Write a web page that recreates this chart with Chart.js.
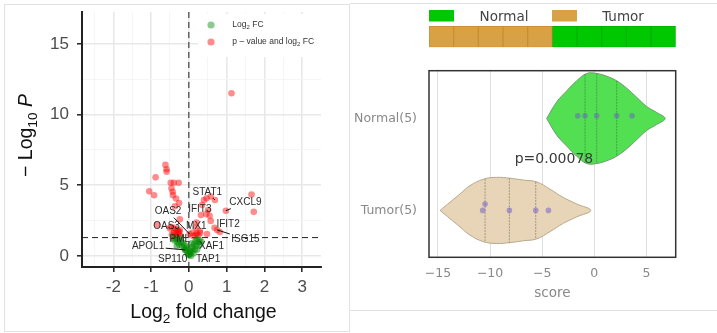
<!DOCTYPE html>
<html lang="en">
<head>
<meta charset="UTF-8">
<title>Volcano plot and score violin</title>
<style>
  body { margin: 0; background: #fff; width: 717px; height: 333px; overflow: hidden; position: relative; }
  #leftFrame { position: absolute; left: 4px; top: 4px; width: 344px; height: 326px; border: 1px solid #e2e2e2; box-sizing: content-box; }
  #volcano { position: absolute; left: 4px; top: 4px; }
  .hline { position: absolute; left: 350px; width: 367px; height: 1px; background: #e2e2e2; }
  #heat { position: absolute; left: 429px; top: 0; }
  #violin { position: absolute; left: 340px; top: 50px; }
</style>
</head>
<body>
<div id="leftFrame"></div>
<canvas id="volcano" width="345" height="327"></canvas>
<div class="hline" style="top:3px"></div>
<div class="hline" style="top:310px"></div>
<canvas id="heat" width="247" height="50"></canvas>
<canvas id="violin" width="377" height="260"></canvas>

<script src="https://cdn.jsdelivr.net/npm/chart.js"></script>
<script>
// ---------- volcano data ----------
const xTicks = [-2, -1, 0, 1, 2, 3];
const xGrid = [-2.5, -2, -1.5, -1, -0.5, 0, 0.5, 1, 1.5, 2, 2.5, 3];
const yTicks = [0, 5, 10, 15];
const yGrid = [0, 2.5, 5, 7.5, 10, 12.5, 15];
const pCutoff = 1.3; // -log10(0.05)

// significant genes (p-value and log2 FC)
const redX = [-0.62, -0.59, -0.59, -0.88, -1.05, -0.92, -0.48, -0.40, -0.27, -0.46, -0.43, -0.42, -0.34, -0.26, -0.37,
  -0.24, -0.84, -0.48, -0.34, -0.39, -0.27, -0.45, -0.40, -0.35, -0.30, -0.28, -0.22, -0.50, -0.38, -0.32, -0.25, -0.24,
  0.02, 0.10, 0.12, 0.18, 0.25, 0.30, 0.40, 0.47, 0.58, 0.69, 0.35, 0.51, 0.46, 0.55, 0.58, 0.32, 0.20, 0.19, 0.29,
  0.21, 0.48, 0.68, 0.75, 0.82, 0.98, 1.66, 1.72, 1.13];
const redY = [6.44, 6.13, 5.95, 5.56, 4.57, 4.29, 5.18, 5.18, 5.18, 4.78, 4.54, 4.30, 4.06, 3.75, 3.52,
  2.59, 2.20, 2.07, 1.88, 1.60, 1.72, 1.50, 1.65, 1.45, 1.80, 1.55, 1.40, 1.95, 2.00, 1.35, 1.70, 1.84,
  1.55, 1.65, 1.40, 1.50, 1.45, 1.62, 3.96, 4.08, 4.20, 3.96, 3.60, 3.25, 2.96, 2.84, 2.48, 2.90, 2.36, 2.01, 1.77,
  1.60, 1.55, 2.00, 1.84, 1.70, 3.20, 4.34, 3.12, 11.5];

// log2 FC only
const greenX = [-0.42, -0.38, -0.35, -0.30, -0.27, -0.25, -0.20, -0.18, -0.15, -0.12, -0.10, -0.08, -0.05, -0.04,
  -0.02, 0.00, 0.02, 0.03, 0.05, 0.06, 0.08, 0.10, 0.12, 0.14, 0.16, 0.18, 0.20, 0.22, 0.25, 0.28, 0.30, 0.33,
  -0.22, 0.08, -0.32, -0.10, 0.22];
const greenY = [1.25, 1.10, 1.20, 0.95, 1.15, 0.80, 1.00, 0.70, 0.90, 0.55, 0.75, 0.40, 0.60, 0.25,
  0.12, 0.05, 0.30, 0.15, 0.50, 0.02, 0.35, 0.65, 0.20, 0.85, 0.45, 1.05, 0.70, 1.20, 0.95, 1.10, 0.80, 1.00,
  1.25, 0.90, 0.70, 0.43, 0.45];

// labelled genes: text centre and the point it points to (data units)
const geneNames = ['STAT1', 'CXCL9', 'IFIT3', 'OAS2', 'MX1', 'OAS3', 'IFIT2', 'ISG15', 'XAF1', 'APOL1', 'PML', 'SP110', 'TAP1'];
const geneTextX = [0.49, 1.50, 0.29, -0.55, 0.20, -0.59, 1.04, 1.50, 0.60, -1.08, -0.24, -0.43, 0.51];
const geneTextY = [4.50, 3.77, 3.30, 3.13, 2.07, 2.07, 2.24, 1.20, 0.66, 0.66, 1.18, -0.24, -0.24];
const genePtX = [0.69, 0.98, 0.55, 0.02, 0.10, -0.24, 0.68, 0.75, 0.22, -0.10, -0.10, 0.00, 0.12];
const genePtY = [3.96, 3.20, 2.84, 1.55, 1.65, 1.84, 2.00, 1.84, 0.45, 0.43, 1.00, 0.05, 0.20];

// ---------- score data ----------
const groups = ['Normal(5)', 'Tumor(5)'];
const scoreTicks = [-15, -10, -5, 0, 5];
const normalScores = [-1.59, -0.89, 0.23, 2.15, 3.62];
const normalJitter = [-0.03, -0.03, -0.03, -0.03, -0.03];
const tumorScores = [-10.48, -10.71, -8.15, -5.62, -4.40];
const tumorJitter = [-0.07, 0, 0, 0, 0];
// violin outline: score position and half width (category units)
const normalShapeX = [-4.57, -3.61, -2.65, -1.69, -0.73, 0.23, 1.19, 2.15, 3.11, 4.07, 5.03, 5.99, 6.79];
const normalShapeW = [0.0, 0.18, 0.30, 0.41, 0.49, 0.49, 0.46, 0.41, 0.33, 0.23, 0.13, 0.065, 0.0];
const tumorShapeX = [-14.8, -13.84, -12.88, -11.92, -10.64, -9.36, -8.08, -6.80, -5.52, -4.24, -2.96, -1.68, -0.34];
const tumorShapeW = [0.0, 0.09, 0.18, 0.27, 0.34, 0.36, 0.35, 0.33, 0.31, 0.23, 0.14, 0.07, 0.0];
// quartile lines: position and half width there
const normalQuartX = [-0.89, 0.23, 2.15];
const normalQuartW = [0.48, 0.49, 0.41];
const tumorQuartX = [-10.48, -8.15, -5.62];
const tumorQuartW = [0.34, 0.35, 0.31];
const pText = 'p=0.00078';

// ---------- sample bar ----------
const sampleGroups = ['Tumor', 'Tumor', 'Tumor', 'Tumor', 'Tumor', 'Normal', 'Normal', 'Normal', 'Normal', 'Normal'];
const groupColors = { Normal: '#00c800', Tumor: '#d8a144' };
const groupBorders = { Normal: '#00b000', Tumor: '#c48f36' };

const LIB = '"Liberation Sans", Arial, sans-serif';
const DJV = '"DejaVu Sans", sans-serif';

function drawRich(ctx, parts, x, y, size, color, family) {
  const fontOf = m => (m === 'it' ? 'italic ' : '') + (m === 'sub' ? size * 0.7 : size) + 'px ' + family;
  let w = 0;
  parts.forEach(p => { ctx.font = fontOf(p[1]); w += ctx.measureText(p[0]).width; });
  let cx = x - w / 2;
  ctx.fillStyle = color;
  ctx.textAlign = 'left';
  ctx.textBaseline = 'middle';
  parts.forEach(p => {
    ctx.font = fontOf(p[1]);
    ctx.fillText(p[0], cx, y + (p[1] === 'sub' ? size * 0.3 : 0));
    cx += ctx.measureText(p[0]).width;
  });
}

function toPoints(xs, ys) {
  return xs.map((x, i) => ({ x: x, y: ys[i] }));
}

// keep the plot area where afterFit puts it
function fixV(width) {
  return s => { s.width = width; s.paddingTop = 0; s.paddingBottom = 0; };
}
function fixH(height) {
  return s => { s.height = height; s.paddingLeft = 0; s.paddingRight = 0; };
}

// ---------- volcano chart ----------
const volcanoExtras = {
  id: 'volcanoExtras',
  beforeDatasetsDraw(chart) {
    const { ctx, chartArea: a, scales: { x, y } } = chart;
    ctx.save();
    ctx.strokeStyle = '#222';
    ctx.lineWidth = 1;
    ctx.setLineDash([6, 4]);
    ctx.beginPath();
    ctx.moveTo(x.getPixelForValue(0), a.top);
    ctx.lineTo(x.getPixelForValue(0), a.bottom);
    ctx.moveTo(a.left, y.getPixelForValue(pCutoff));
    ctx.lineTo(a.right, y.getPixelForValue(pCutoff));
    ctx.stroke();
    ctx.setLineDash([]);
    // legend
    ctx.fillStyle = '#fff';
    ctx.fillRect(194, 10, a.right - 194, 43);
    ctx.beginPath();
    ctx.fillStyle = 'rgba(0,139,0,0.45)';
    ctx.arc(207, 21, 3.6, 0, Math.PI * 2);
    ctx.fill();
    ctx.beginPath();
    ctx.fillStyle = 'rgba(255,0,0,0.45)';
    ctx.arc(207, 38, 3.6, 0, Math.PI * 2);
    ctx.fill();
    ctx.restore();
    ctx.save();
    const lg1 = [['Log', ''], ['2', 'sub'], [' FC', '']];
    const lg2 = [['p \u2013 value and log', ''], ['2', 'sub'], [' FC', '']];
    ctx.font = '8.5px ' + LIB;
    const w1 = ctx.measureText('Log FC').width + 4;
    const w2 = ctx.measureText('p \u2013 value and log FC').width + 4;
    drawRich(ctx, lg1, 228 + w1 / 2, 21, 8.5, '#333', LIB);
    drawRich(ctx, lg2, 228 + w2 / 2, 38, 8.5, '#333', LIB);
    ctx.restore();
  },
  afterDatasetsDraw(chart) {
    const { ctx, scales: { x, y } } = chart;
    ctx.save();
    ctx.font = '10px ' + LIB;
    ctx.textAlign = 'center';
    ctx.textBaseline = 'middle';
    geneNames.forEach((name, i) => {
      const tx = x.getPixelForValue(geneTextX[i]);
      const ty = y.getPixelForValue(geneTextY[i]);
      const px = x.getPixelForValue(genePtX[i]);
      const py = y.getPixelForValue(genePtY[i]);
      const hw = ctx.measureText(name).width / 2 + 1.5;
      const hh = 6;
      const dx = px - tx, dy = py - ty;
      const t = Math.min(hw / Math.max(Math.abs(dx), 1e-6), hh / Math.max(Math.abs(dy), 1e-6));
      if (t < 0.9) {
        ctx.strokeStyle = '#111';
        ctx.lineWidth = 1;
        ctx.beginPath();
        ctx.moveTo(tx + dx * t, ty + dy * t);
        ctx.lineTo(px, py);
        ctx.stroke();
      }
      ctx.fillStyle = '#2a2a2a';
      ctx.fillText(name, tx, ty);
    });
    ctx.restore();
  },
  afterDraw(chart) {
    const { ctx, chartArea: a } = chart;
    ctx.save();
    drawRich(ctx, [['Log', ''], ['2', 'sub'], [' fold change', '']], (a.left + a.right) / 2 + 2, 309, 19.5, '#111', LIB);
    ctx.translate(23, (a.top + a.bottom) / 2 - 4);
    ctx.rotate(-Math.PI / 2);
    drawRich(ctx, [['\u2212 Log', ''], ['10', 'sub'], [' ', ''], ['P', 'it']], 0, 0, 19.5, '#111', LIB);
    ctx.restore();
  }
};

const gridColor = (major) => (c) => (major.includes(c.tick.value) ? '#e8e8e8' : '#f3f3f3');
const gridWidth = (major) => (c) => (major.includes(c.tick.value) ? 1.6 : 0.8);
const tickColor = (major) => (c) => (major.includes(c.tick.value) ? '#222' : 'rgba(0,0,0,0)');

new Chart(document.getElementById('volcano'), {
  type: 'scatter',
  data: {
    datasets: [
      { label: 'Log2 FC', data: toPoints(greenX, greenY), backgroundColor: 'rgba(0,139,0,0.5)', borderWidth: 0, pointRadius: 3.3, order: 0 },
      { label: 'p - value and log2 FC', data: toPoints(redX, redY), backgroundColor: 'rgba(255,0,0,0.45)', borderWidth: 0, pointRadius: 3.3, order: 1 }
    ]
  },
  options: {
    responsive: false,
    animation: false,
    layout: { padding: { left: 0, top: 8, right: 28, bottom: 0 } },
    plugins: { legend: { display: false }, tooltip: { enabled: false } },
    scales: {
      x: {
        type: 'linear', min: -2.83, max: 3.5,
        afterBuildTicks: s => { s.ticks = xGrid.map(v => ({ value: v })); },
        afterFit: fixH(64),
        grid: { color: gridColor(xTicks), lineWidth: gridWidth(xTicks), tickColor: tickColor(xTicks), tickLength: 5, tickWidth: 1.5 },
        border: { display: true, color: '#222', width: 2 },
        ticks: {
          autoSkip: false, maxRotation: 0, padding: 5, color: '#4d4d4d',
          font: { family: LIB, size: 17 },
          callback: v => (xTicks.includes(v) ? String(v) : '')
        }
      },
      y: {
        type: 'linear', min: -0.78, max: 17.25,
        afterBuildTicks: s => { s.ticks = yGrid.map(v => ({ value: v })); },
        afterFit: fixV(78),
        grid: { color: gridColor(yTicks), lineWidth: gridWidth(yTicks), tickColor: tickColor(yTicks), tickLength: 5, tickWidth: 1.5 },
        border: { display: true, color: '#222', width: 2 },
        ticks: {
          autoSkip: false, padding: 8, color: '#4d4d4d',
          font: { family: LIB, size: 17 },
          callback: v => (yTicks.includes(v) ? String(v) : '')
        }
      }
    }
  },
  plugins: [volcanoExtras]
});

// ---------- sample group bar ----------
const heatLegend = {
  id: 'heatLegend',
  afterDraw(chart) {
    const ctx = chart.ctx;
    ctx.save();
    ctx.fillStyle = groupColors.Normal;
    ctx.fillRect(0, 10, 25, 11.5);
    ctx.fillStyle = groupColors.Tumor;
    ctx.fillRect(123, 10, 25, 11.5);
    ctx.fillStyle = '#444';
    ctx.font = '13.5px ' + DJV;
    ctx.textAlign = 'center';
    ctx.textBaseline = 'middle';
    ctx.fillText('Normal', 75, 17);
    ctx.fillText('Tumor', 194, 17);
    ctx.restore();
  }
};

new Chart(document.getElementById('heat'), {
  type: 'bar',
  data: {
    labels: ['group'],
    datasets: sampleGroups.map(g => ({
      label: g, data: [1], backgroundColor: groupColors[g], borderColor: groupBorders[g],
      borderWidth: 1, borderSkipped: false, barPercentage: 1, categoryPercentage: 1
    }))
  },
  options: {
    indexAxis: 'y',
    responsive: false,
    animation: false,
    layout: { padding: { left: 0, right: 0.3, top: 26, bottom: 2.7 } },
    plugins: { legend: { display: false }, tooltip: { enabled: false } },
    scales: {
      x: { display: false, stacked: true, min: 0, max: sampleGroups.length },
      y: { display: false, stacked: true }
    }
  },
  plugins: [heatLegend]
});

// ---------- violin chart ----------
function outline(xs, ws, c) {
  const upper = xs.map((x, i) => ({ x: x, y: c - ws[i] }));
  const lower = xs.slice(0, -1).map((x, i) => ({ x: x, y: c + ws[i] })).reverse();
  return upper.concat(lower);
}

function quartileSets(xs, ws, c) {
  return xs.map((x, i) => ({
    data: [{ x: x, y: c - ws[i] }, { x: x, y: c + ws[i] }],
    showLine: true, borderColor: 'rgba(60,60,60,0.4)', borderWidth: 1,
    borderDash: [2, 1], pointRadius: 0, tension: 0, fill: false, order: 1
  }));
}

const violinExtras = {
  id: 'violinExtras',
  afterDatasetsDraw(chart) {
    const { ctx, scales: { x, y } } = chart;
    ctx.save();
    ctx.fillStyle = '#3a3a3a';
    ctx.font = '14px ' + DJV;
    ctx.textAlign = 'center';
    ctx.textBaseline = 'middle';
    ctx.fillText(pText, x.getPixelForValue(-3.87), y.getPixelForValue(0.44));
    ctx.restore();
  },
  afterDraw(chart) {
    const { ctx, chartArea: a } = chart;
    ctx.save();
    ctx.strokeStyle = '#333';
    ctx.lineWidth = 1.5;
    ctx.strokeRect(a.left, a.top, a.right - a.left, a.bottom - a.top);
    ctx.fillStyle = '#888';
    ctx.font = '13.5px ' + DJV;
    ctx.textAlign = 'center';
    ctx.textBaseline = 'middle';
    ctx.fillText('score', (a.left + a.right) / 2, 243);
    ctx.restore();
  }
};

new Chart(document.getElementById('violin'), {
  type: 'scatter',
  data: {
    datasets: [
      { data: outline(normalShapeX, normalShapeW, 0), showLine: true, tension: 0.4, fill: 'shape',
        backgroundColor: '#52e052', borderColor: '#6f9a6f', borderWidth: 1, pointRadius: 0, order: 2 },
      { data: outline(tumorShapeX, tumorShapeW, 1), showLine: true, tension: 0.4, fill: 'shape',
        backgroundColor: '#e8d5b7', borderColor: '#b7a88c', borderWidth: 1, pointRadius: 0, order: 2 },
      ...quartileSets(normalQuartX, normalQuartW, 0),
      ...quartileSets(tumorQuartX, tumorQuartW, 1),
      { data: normalScores.map((v, i) => ({ x: v, y: 0 + normalJitter[i] })), backgroundColor: 'rgba(106,90,205,0.5)',
        borderWidth: 0, pointRadius: 2.8, order: 0 },
      { data: tumorScores.map((v, i) => ({ x: v, y: 1 + tumorJitter[i] })), backgroundColor: 'rgba(106,90,205,0.5)',
        borderWidth: 0, pointRadius: 2.8, order: 0 }
    ]
  },
  options: {
    responsive: false,
    animation: false,
    layout: { padding: { left: 0, top: 20.7, right: 41.3, bottom: 0 } },
    plugins: { legend: { display: false }, tooltip: { enabled: false } },
    scales: {
      x: {
        type: 'linear', min: -15.86, max: 7.81,
        afterBuildTicks: s => { s.ticks = scoreTicks.map(v => ({ value: v })); },
        afterFit: fixH(52.7),
        grid: { color: '#dedede', lineWidth: 1, drawTicks: false },
        border: { display: false },
        ticks: {
          autoSkip: false, maxRotation: 0, padding: 9, color: '#888',
          font: { family: DJV, size: 12.5 },
          callback: v => String(v).replace('-', '\u2212')
        }
      },
      y: {
        type: 'linear', min: -0.52, max: 1.51, reverse: true,
        afterBuildTicks: s => { s.ticks = groups.map((g, i) => ({ value: i })); },
        afterFit: fixV(89),
        grid: { display: false, drawTicks: false },
        border: { display: false },
        ticks: {
          autoSkip: false, padding: 12, color: '#888',
          font: { family: DJV, size: 12.5 },
          callback: v => groups[v]
        }
      }
    }
  },
  plugins: [violinExtras]
});
</script>
</body>
</html>
